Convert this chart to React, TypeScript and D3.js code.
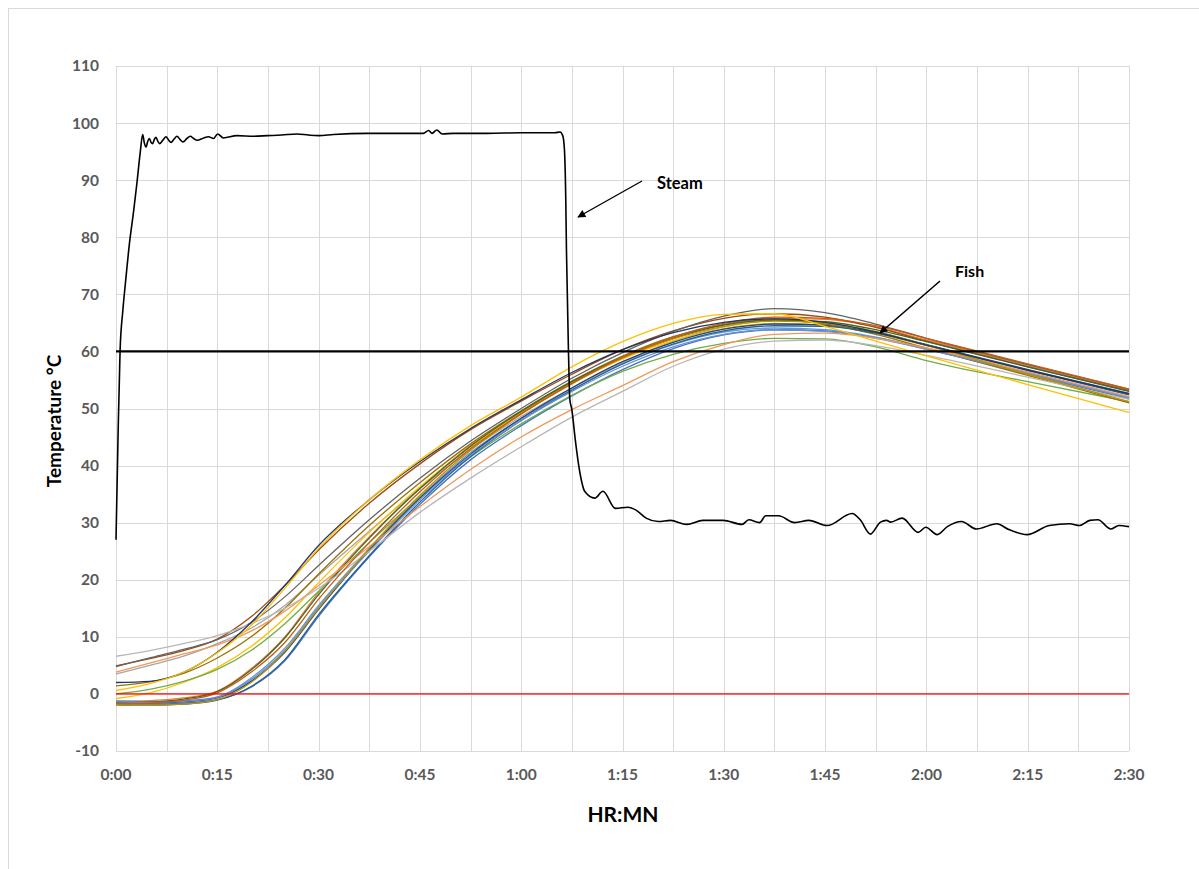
import React from 'react';
import * as d3 from 'd3';

// ---------- data ----------
const yTickValues = [-10, 0, 10, 20, 30, 40, 50, 60, 70, 80, 90, 100, 110];
const xGridMinutes = [0, 7.5, 15, 22.5, 30, 37.5, 45, 52.5, 60, 67.5, 75, 82.5, 90, 97.5, 105, 112.5, 120, 127.5, 135, 142.5, 150];
const xLabelMinutes = [0, 15, 30, 45, 60, 75, 90, 105, 120, 135, 150];
const xLabelTexts = ['0:00', '0:15', '0:30', '0:45', '1:00', '1:15', '1:30', '1:45', '2:00', '2:15', '2:30'];

const steamTimes = [0, 0.3, 0.6, 1.0, 1.4, 2.0, 2.6, 3.1, 3.6, 3.95, 4.2, 4.44, 4.7, 4.93, 5.2, 5.42, 5.7, 5.92, 6.2, 6.46, 7.0, 7.4, 7.8, 8.14, 8.6, 9.03, 9.5, 9.92, 10.5, 11.0, 11.5, 12.0, 13.0, 13.7, 14.45, 15.05, 15.9, 17.9, 20.4, 22.4, 24.5, 26.8, 28.5, 30, 32.2, 37.2, 42, 45.5, 46.3, 46.8, 47.5, 48.3, 50, 55, 60, 65, 65.75, 66.15, 66.4, 66.6, 66.7, 67.0, 67.2, 67.5, 68.0, 68.7, 69.4, 70.9, 72.1, 73.95, 75.8, 77.0, 78.5, 80.3, 82.1, 84.5, 86.9, 89.9, 92.7, 93.7, 95.3, 96.2, 98.1, 100.5, 102.6, 105.3, 109.0, 110.2, 111.7, 113.2, 114.1, 114.7, 116.4, 118.8, 119.9, 121.6, 123.1, 125.2, 127.4, 130.4, 132.2, 134.9, 138.2, 141.2, 142.7, 144.2, 145.4, 147.3, 148.5, 150];
const steamValues = [27, 45, 60, 67, 72, 79, 84.5, 89.5, 95.0, 98.0, 96.5, 95.8, 96.8, 97.3, 96.6, 96.4, 97.2, 97.5, 96.8, 96.4, 97.1, 97.6, 97.0, 96.6, 97.2, 97.7, 97.1, 96.7, 97.3, 97.7, 97.3, 97.0, 97.4, 97.6, 97.3, 98.1, 97.4, 97.8, 97.7, 97.8, 97.9, 98.1, 97.9, 97.8, 98.0, 98.2, 98.2, 98.2, 98.7, 98.2, 98.8, 98.1, 98.2, 98.2, 98.3, 98.3, 98.45, 97.8, 95.4, 86.6, 77.8, 60.0, 51.6, 49.8, 44.6, 38.7, 35.5, 34.3, 35.5, 32.5, 32.7, 32.2, 30.8, 30.2, 30.4, 29.7, 30.4, 30.4, 29.7, 30.5, 30.0, 31.2, 31.2, 30.0, 30.4, 29.5, 31.6, 30.5, 28.0, 30.1, 30.4, 30.1, 30.8, 28.3, 29.2, 27.9, 29.3, 30.2, 28.9, 29.8, 28.8, 27.9, 29.5, 29.8, 29.5, 30.4, 30.5, 28.9, 29.5, 29.3];

const fishTimes = [0, 5, 10, 15, 20, 25, 30, 37.5, 45, 52.5, 60, 67.5, 75, 82.5, 90, 97.5, 105, 112.5, 120, 135, 150];

const fishLightGray = [6.6, 7.6, 8.8, 10.2, 12.3, 15.0, 18.5, 25.0, 31.8, 37.8, 43.3, 48.5, 53.0, 57.4, 60.4, 61.8, 62.0, 61.0, 59.3, 55.5, 51.6];
const fishDarkGray = [4.8, 6.3, 7.8, 9.5, 12.5, 17.0, 22.5, 30.5, 37.8, 44.3, 50.0, 55.3, 59.8, 63.5, 66.2, 67.5, 66.8, 64.8, 62.3, 57.7, 53.4];
const fishBrown = [4.9, 6.2, 7.6, 9.6, 13.5, 19.0, 25.2, 33.4, 40.3, 46.3, 51.3, 56.0, 60.3, 63.6, 65.8, 66.6, 66.0, 64.2, 61.8, 57.3, 53.1];
const fishSalmon = [3.8, 5.4, 7.0, 8.6, 11.0, 14.5, 19.0, 25.8, 32.8, 39.3, 45.0, 49.8, 54.0, 58.2, 61.2, 63.0, 63.2, 62.3, 60.6, 56.4, 52.1];
const fishGray = [3.5, 5.0, 6.6, 8.8, 11.5, 15.5, 20.8, 28.5, 36.0, 42.8, 48.6, 53.6, 58.0, 61.8, 64.3, 65.4, 65.0, 63.4, 61.2, 56.8, 52.7];
const fishDarkBlue = [2.0, 2.2, 3.8, 7.3, 12.5, 19.0, 26.0, 34.0, 40.7, 46.5, 51.5, 56.3, 60.3, 63.3, 65.1, 65.7, 65.1, 63.4, 61.1, 56.7, 52.6];
const fishYellow = [0.6, 1.8, 3.8, 7.2, 12.0, 18.5, 25.5, 34.0, 41.0, 47.0, 52.0, 57.3, 61.7, 64.9, 66.5, 66.6, 64.4, 61.8, 59.2, 54.2, 49.3];
const fishDarkYellow = [1.4, 2.1, 3.6, 6.3, 10.0, 15.0, 21.0, 29.5, 37.0, 43.8, 49.6, 54.8, 59.2, 62.6, 64.7, 65.5, 64.8, 63.0, 60.6, 55.8, 51.0];
const fishGreen = [0.0, 0.8, 2.2, 4.3, 7.6, 12.3, 18.0, 26.5, 34.5, 41.5, 47.3, 52.3, 56.5, 59.5, 61.4, 62.3, 62.2, 60.8, 58.4, 54.7, 51.2];
const fishYellow2 = [-0.8, 0.2, 2.0, 4.6, 8.3, 13.3, 19.5, 28.3, 36.3, 43.3, 49.2, 54.4, 58.7, 61.9, 64.0, 64.9, 64.6, 63.1, 61.0, 56.3, 51.9];
const fishOrange = [-1.3, -1.2, -0.7, 0.5, 4.4, 10.0, 17.8, 27.5, 36.0, 43.5, 49.4, 54.5, 58.9, 62.3, 64.7, 65.8, 65.6, 64.3, 62.0, 57.5, 53.2];
const fishDarkGreen = [-1.5, -1.4, -0.9, 0.4, 4.2, 9.8, 17.4, 27.3, 36.0, 43.4, 49.5, 54.7, 59.0, 62.3, 64.6, 65.5, 65.2, 63.8, 61.7, 57.3, 53.0];
const fishBlue = [-1.6, -1.8, -1.6, -1.0, 1.2, 5.8, 13.6, 24.0, 33.2, 41.0, 47.0, 52.2, 56.8, 60.5, 62.9, 63.8, 63.6, 62.4, 60.4, 56.0, 51.7];
const fishLightBlue = [-1.2, -1.4, -1.2, -0.5, 2.8, 8.0, 15.5, 25.5, 34.5, 42.3, 48.2, 53.3, 57.8, 61.2, 63.4, 64.1, 63.8, 62.5, 60.5, 56.2, 52.0];
const fishSteelBlue = [-1.9, -2.0, -1.8, -1.1, 1.3, 6.0, 13.9, 24.2, 33.6, 41.6, 47.9, 53.2, 57.8, 61.3, 63.6, 64.5, 64.4, 63.2, 61.1, 56.7, 52.4];
const fishGold = [-1.9, -2.0, -1.8, -1.0, 2.0, 7.5, 15.0, 25.5, 34.8, 42.7, 49.0, 54.3, 58.8, 62.2, 64.4, 65.3, 65.0, 63.5, 61.1, 56.0, 51.2];
const fishPeriwinkle = [-1.4, -1.5, -1.3, -0.6, 2.5, 7.6, 15.2, 25.0, 34.0, 41.8, 47.9, 53.0, 57.4, 60.8, 63.0, 63.8, 63.5, 62.3, 60.4, 56.1, 51.8];
const fishDarkOrange = [-1.7, -1.6, -1.1, 0.2, 3.8, 9.0, 16.6, 26.5, 35.4, 43.0, 49.1, 54.4, 59.0, 62.5, 64.9, 66.0, 65.8, 64.5, 62.3, 57.8, 53.4];
const fishNavy = [-1.5, -1.6, -1.4, -0.7, 2.2, 7.3, 14.8, 25.2, 34.3, 42.0, 48.3, 53.6, 58.2, 61.6, 63.9, 64.8, 64.6, 63.3, 61.2, 56.8, 52.5];

const fishSeries = [
  { values: fishBlue, color: '#4472C4' },
  { values: fishOrange, color: '#ED7D31' },
  { values: fishGray, color: '#A5A5A5' },
  { values: fishYellow2, color: '#FFC000' },
  { values: fishLightBlue, color: '#5B9BD5' },
  { values: fishGreen, color: '#70AD47' },
  { values: fishNavy, color: '#264478' },
  { values: fishBrown, color: '#9E480E' },
  { values: fishDarkGray, color: '#636363' },
  { values: fishDarkYellow, color: '#997300' },
  { values: fishSteelBlue, color: '#255E91' },
  { values: fishDarkGreen, color: '#43682B' },
  { values: fishPeriwinkle, color: '#698ED0' },
  { values: fishSalmon, color: '#F1975A' },
  { values: fishLightGray, color: '#B7B7B7' },
  { values: fishGold, color: '#BF9000' },
  { values: fishDarkOrange, color: '#C55A11' },
  { values: fishDarkBlue, color: '#203864' },
  { values: fishYellow, color: '#FFC000' },
];

const referenceLines = [
  { value: 0, color: '#FF0000', width: 1.2 },
  { value: 60, color: '#000000', width: 2.2 },
];

// ---------- layout ----------
const W = 1199;
const H = 869;
const FONT = 'Lato, "Open Sans", sans-serif';

export default function App() {
  const x = d3.scaleLinear().domain([0, 150]).range([116, 1129]);
  const y = d3.scaleLinear().domain([-10, 110]).range([751, 66]);

  const line = d3
    .line<[number, number]>()
    .x((d) => x(d[0]))
    .y((d) => y(d[1]))
    .curve(d3.curveMonotoneX);

  const steamPath = line(steamTimes.map((t, i) => [t, steamValues[i]] as [number, number])) || '';

  return (
    <svg width={W} height={H} style={{ position: 'absolute', left: 0, top: 0, background: '#fff' }} fontFamily={FONT}>
      <defs>
        <marker id="arrowHead" viewBox="0 0 10 10" refX="9" refY="5" markerWidth="9" markerHeight="8" markerUnits="userSpaceOnUse" orient="auto">
          <path d="M0,0 L10,5 L0,10 z" fill="#000" />
        </marker>
      </defs>
      <rect x={0} y={0} width={W} height={H} fill="#fff" />
      <rect x={8.5} y={8.5} width={1260} height={920} fill="none" stroke="#D9D9D9" strokeWidth={1} />

      {/* gridlines */}
      {yTickValues.map((v) => (
        <line key={'gy' + v} x1={x(0)} x2={x(150)} y1={Math.round(y(v)) + 0.5} y2={Math.round(y(v)) + 0.5} stroke="#D9D9D9" strokeWidth={1} />
      ))}
      {xGridMinutes.map((m) => (
        <line key={'gx' + m} x1={Math.round(x(m)) + 0.5} x2={Math.round(x(m)) + 0.5} y1={y(110)} y2={y(-10)} stroke="#D9D9D9" strokeWidth={1} />
      ))}

      {/* y tick labels */}
      {yTickValues.map((v) => (
        <text key={'ty' + v} x={99} y={y(v)} dy="0.35em" textAnchor="end" fontSize={15.5} fontWeight={700} fill="#595959">
          {v}
        </text>
      ))}
      {/* x tick labels */}
      {xLabelMinutes.map((m, i) => (
        <text key={'tx' + m} x={x(m)} y={780} textAnchor="middle" fontSize={15.5} fontWeight={700} fill="#595959">
          {xLabelTexts[i]}
        </text>
      ))}

      {/* fish traces */}
      <g fill="none" strokeWidth={1.3}>
        {fishSeries.map((s, i) => (
          <path key={'f' + i} d={line(fishTimes.map((t, j) => [t, s.values[j]] as [number, number])) || ''} stroke={s.color} />
        ))}
      </g>

      {/* reference lines */}
      {referenceLines.map((r) => (
        <line key={'r' + r.value} x1={x(0)} x2={x(150)} y1={y(r.value)} y2={y(r.value)} stroke={r.color} strokeWidth={r.width} />
      ))}

      {/* steam */}
      <path d={steamPath} fill="none" stroke="#000" strokeWidth={1.6} />

      {/* annotations */}
      <line x1={642} y1={181} x2={578} y2={217} stroke="#000" strokeWidth={1.4} markerEnd="url(#arrowHead)" />
      <text x={657} y={189} fontSize={16.5} fontWeight={700} fill="#000">Steam</text>
      <line x1={940} y1={281} x2={880} y2={333} stroke="#000" strokeWidth={1.6} markerEnd="url(#arrowHead)" />
      <text x={955} y={277} fontSize={16} fontWeight={700} fill="#000">Fish</text>

      {/* axis titles */}
      <text x={623} y={822} textAnchor="middle" fontSize={21} fontWeight={700} fill="#000">HR:MN</text>
      <text transform={`translate(61,421) rotate(-90)`} textAnchor="middle" fontSize={19} fontWeight={700} fill="#000">
        Temperature °C
      </text>
    </svg>
  );
}
